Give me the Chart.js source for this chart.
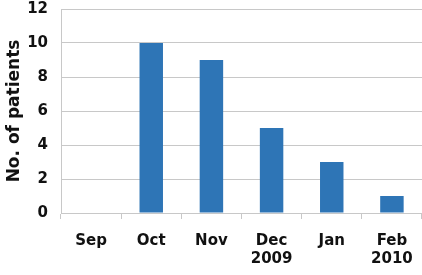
<!DOCTYPE html>
<html>
<head>
<meta charset="utf-8">
<script src="https://cdn.jsdelivr.net/npm/chart.js@4/dist/chart.umd.min.js"></script>
<style>
  html, body { margin: 0; padding: 0; background: #fff; }
  #wrap { width: 422px; height: 275px; position: relative; }
</style>
</head>
<body>
<div id="wrap"><canvas id="chart"></canvas></div>
<script>
const months = [['Sep'], ['Oct'], ['Nov'], ['Dec', '2009'], ['Jan'], ['Feb', '2010']];
const patients = [0, 10, 9, 5, 3, 1];
const yTicks = [0, 2, 4, 6, 8, 10, 12];

const labelFont = { family: 'DejaVu Sans', size: 15, weight: 'bold' };
const gridGray = '#c8c8c8';

const ctx = document.getElementById('chart').getContext('2d');
new Chart(ctx, {
  type: 'bar',
  data: {
    labels: months,
    datasets: [
      {
        label: 'Patients',
        data: patients,
        backgroundColor: '#2e75b6',
        categoryPercentage: 1,
        barPercentage: 0.39,
      },
    ],
  },
  options: {
    responsive: true,
    maintainAspectRatio: false,
    animation: false,
    layout: { padding: { top: 0, right: 0, left: 2, bottom: 0 } },
    plugins: {
      legend: { display: false },
      tooltip: { enabled: false },
    },
    scales: {
      x: {
        offset: true,
        grid: {
          offset: true,
          drawOnChartArea: false,
          drawTicks: true,
          tickLength: 6,
          color: gridGray,
        },
        border: { color: gridGray },
        ticks: {
          color: '#111',
          font: labelFont,
          padding: 13,
          maxRotation: 0,
        },
        afterFit: (axis) => {
          axis.height = 62;
          axis.paddingLeft = 0;
          axis.paddingRight = 0;
        },
      },
      y: {
        min: 0,
        max: 12,
        afterBuildTicks: (axis) => {
          axis.ticks = yTicks.map((v) => ({ value: v }));
        },
        grid: {
          color: gridGray,
          drawTicks: false,
        },
        border: { color: gridGray },
        ticks: {
          color: '#111',
          font: labelFont,
          padding: 13,
        },
        title: {
          display: true,
          text: 'No. of patients',
          color: '#111',
          font: { family: 'DejaVu Sans', size: 17, weight: 'bold' },
          padding: 2,
        },
        afterFit: (axis) => {
          axis.width = 59;
          axis.paddingTop = 9;
        },
      },
    },
  },
});
</script>
</body>
</html>
